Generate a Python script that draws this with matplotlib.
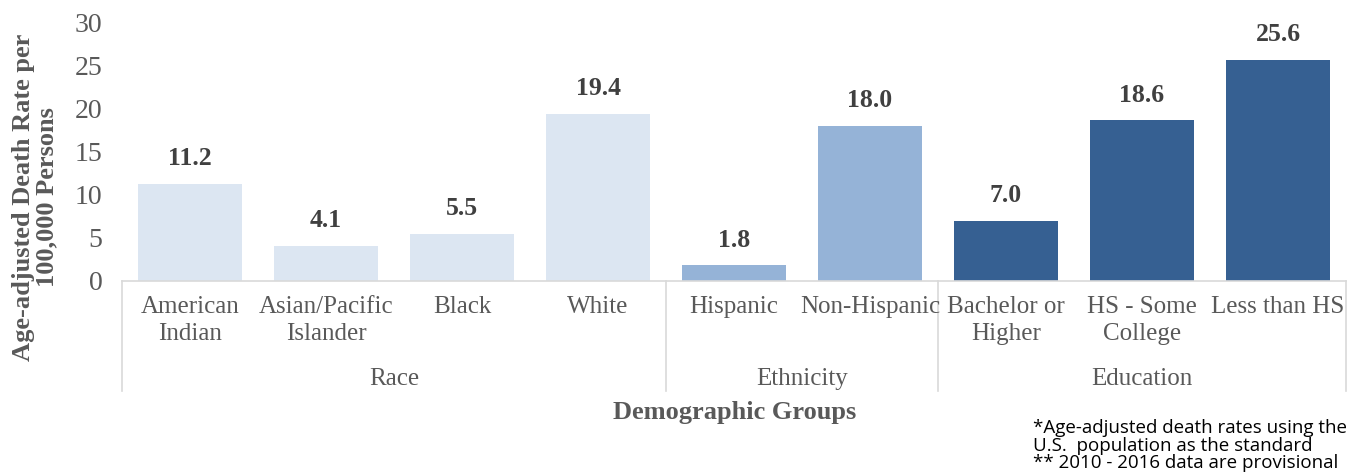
import matplotlib
matplotlib.use("Agg")
import matplotlib.pyplot as plt

categories = ["American\nIndian", "Asian/Pacific\nIslander", "Black", "White",
              "Hispanic", "Non-Hispanic",
              "Bachelor or\nHigher", "HS - Some\nCollege", "Less than HS"]
values = [11.2, 4.1, 5.5, 19.4, 1.8, 18.0, 7.0, 18.6, 25.6]
groups = ["Race", "Ethnicity", "Education"]
group_sizes = [4, 2, 3]
group_colors = ["#DCE6F2", "#95B3D7", "#366092"]
yticks = [0, 5, 10, 15, 20, 25, 30]

serif = ["Liberation Serif", "DejaVu Serif"]
grey = "#595959"

fig = plt.figure(figsize=(13.54, 4.76), dpi=100)
ax = fig.add_axes([122/1354, 1 - 281/476, (1346-122)/1354, (281-22)/476])

colors = []
for c, n in zip(group_colors, group_sizes):
    colors += [c] * n
x = list(range(len(values)))
bars = ax.bar(x, values, width=0.77, color=colors)

for xi, v in zip(x, values):
    ax.annotate(f"{v:.1f}", (xi, v), xytext=(0, 10), textcoords="offset points",
                ha="center", va="bottom", fontsize=18.5, fontweight="bold",
                family=serif, color="#404040")

ax.set_xlim(-0.5, len(values) - 0.5)
ax.set_ylim(0, 30)
ax.set_yticks(yticks)
ax.set_yticklabels([str(t) for t in yticks], family=serif, fontsize=20, color=grey)
ax.tick_params(axis="y", length=0, pad=14)
ax.set_xticks([])
for s in ["top", "right", "left"]:
    ax.spines[s].set_visible(False)
ax.spines["bottom"].set_color("#D9D9D9")
ax.spines["bottom"].set_linewidth(1.2)

tr = ax.get_xaxis_transform()
for xi, lab in zip(x, categories):
    ax.text(xi, -0.056, lab, transform=tr, ha="center", va="top", fontsize=18,
            family=serif, color=grey, linespacing=1.3, clip_on=False)

start = -0.5
bounds = [start]
for g, n in zip(groups, group_sizes):
    end = start + n
    ax.text((start + end) / 2, -0.378, g, transform=tr, ha="center", va="center",
            fontsize=18, family=serif, color=grey, clip_on=False)
    bounds.append(end)
    start = end
for b in bounds:
    ax.plot([b, b], [0, -0.425], transform=tr, color="#D9D9D9", lw=1.2, clip_on=False)

fig.text(735/1354, 1 - 413/476, "Demographic Groups", ha="center", va="center",
         fontsize=19, fontweight="bold", family=serif, color=grey)
fig.text(35/1354, 1 - 197/476, "Age-adjusted Death Rate per\n100,000 Persons",
         rotation=90, ha="center", va="center", fontsize=19, fontweight="bold",
         family=serif, color=grey, linespacing=1.0)
fig.text(1033/1354, 1 - 472/476,
         "*Age-adjusted death rates using the\nU.S.  population as the standard\n** 2010 - 2016 data are provisional",
         ha="left", va="bottom", fontsize=13.5, family=["Open Sans", "DejaVu Sans"],
         color="black", linespacing=0.95)

fig.savefig("out.png", dpi=100)
